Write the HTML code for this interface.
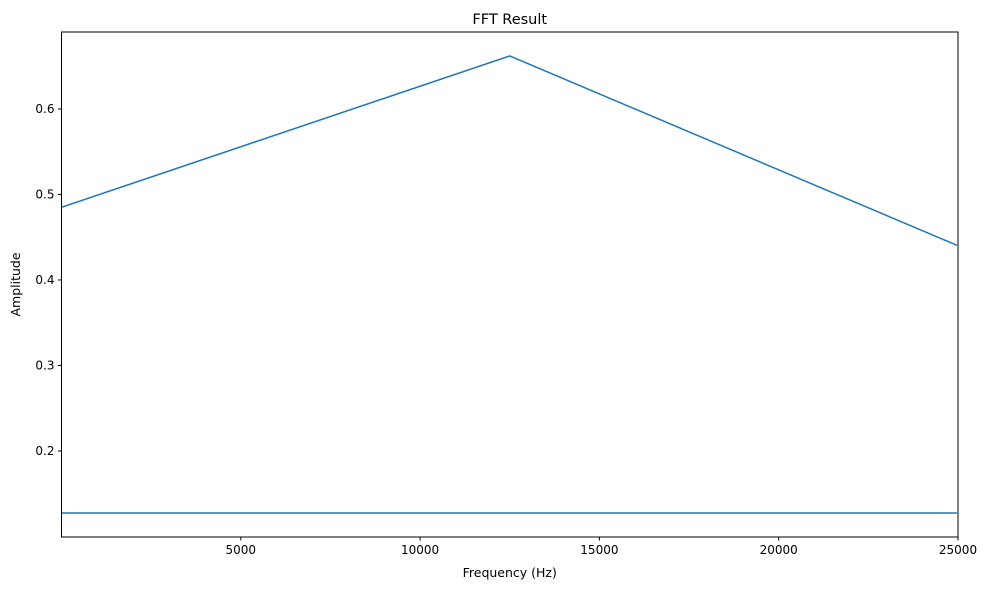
<!DOCTYPE html>
<html><head><meta charset="utf-8"><style>
html,body{margin:0;padding:0;background:#fff;}
svg text{font-family:"DejaVu Sans","Liberation Sans",sans-serif;fill:#000;}
</style></head><body>
<svg id="chart" width="989" height="590" xmlns="http://www.w3.org/2000/svg">
<rect width="989" height="590" fill="#fff"/>
<g id="plot"></g>
</svg>
<script>
const freqs = [0, 12500, 25000, 25000, 0];
const amps = [0.485, 0.662, 0.44, 0.1275, 0.1275];
const xTicks = [5000, 10000, 15000, 20000, 25000];
const yTicks = [0.2, 0.3, 0.4, 0.5, 0.6];
const xDomain = [0, 25000];
const yDomain = [0.0994, 0.690];
const L=61.5,R=958,T=32,B=537;
const xs=v=>L+(v-xDomain[0])/(xDomain[1]-xDomain[0])*(R-L);
const ys=v=>B-(v-yDomain[0])/(yDomain[1]-yDomain[0])*(B-T);
const NS="http://www.w3.org/2000/svg";
const g=document.getElementById('plot');
function mk(t,a,p){const e=document.createElementNS(NS,t);for(const k in a)e.setAttribute(k,a[k]);(p||g).appendChild(e);return e;}
const cp=mk('clipPath',{id:'clip'});mk('rect',{x:L,y:T,width:R-L-1,height:B-T},cp);
const line=mk('polyline',{points:freqs.map((f,i)=>xs(f)+','+ys(amps[i])).join(' '),fill:'none',stroke:'#1f77b4','stroke-width':1.5,'clip-path':'url(#clip)'});


xTicks.forEach(v=>{const x=xs(v);
 const t=mk('line',{x1:x,x2:x,y1:B,y2:B+3.5,stroke:'#000','stroke-width':1});
 
 
 const l=mk('text',{x:x,y:B+17,'font-size':12,'text-anchor':'middle'});l.textContent=v;
 
 });
yTicks.forEach(v=>{const y=ys(v);
 const t=mk('line',{x1:L-3.5,x2:L,y1:y,y2:y,stroke:'#000','stroke-width':1});
 
 
 const l=mk('text',{x:L-7,y:y+4,'font-size':12,'text-anchor':'end'});l.textContent=v.toFixed(1);
 
 });
const fr=mk('rect',{x:L,y:T,width:R-L,height:B-T,fill:'none',stroke:'#000','stroke-width':1,'shape-rendering':'crispEdges'});


const ti=mk('text',{x:(L+R)/2,y:24,'font-size':14.5,'text-anchor':'middle'});ti.textContent='FFT Result';


const xl=mk('text',{x:(L+R)/2,y:577,'font-size':12.5,'text-anchor':'middle'});xl.textContent='Frequency (Hz)';


const yl=mk('text',{x:0,y:0,'font-size':12.5,'text-anchor':'middle',transform:'translate(20,'+((T+B)/2)+') rotate(-90)'});yl.textContent='Amplitude';


</script>
</body></html>
